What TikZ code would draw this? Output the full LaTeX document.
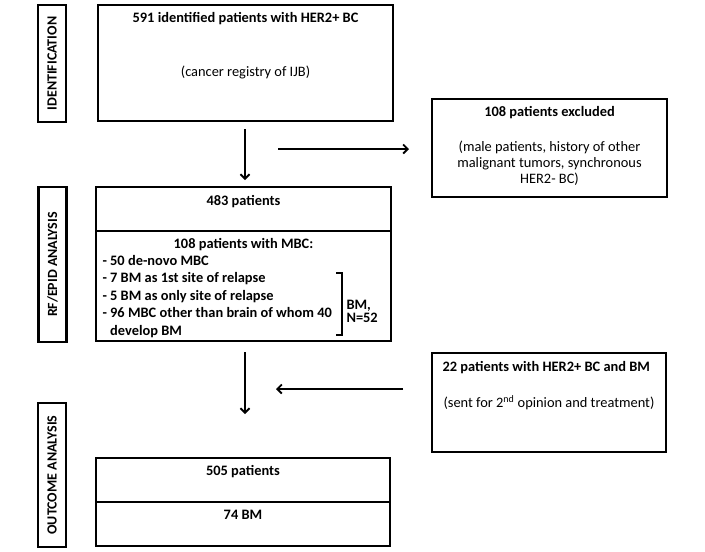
\documentclass[tikz,border=0pt]{standalone}
\usepackage{fontspec}
\setmainfont{Carlito}
\usetikzlibrary{arrows.meta}
\begin{document}
\begin{tikzpicture}[x=1pt,y=-1pt,
  box/.style={draw,line width=1.7pt,rectangle,inner sep=0pt},
  side/.style={draw,line width=2.2pt,rectangle,inner sep=0pt,minimum width=28pt},
  sidetxt/.style={rotate=90,font=\fontsize{14}{16}\selectfont\bfseries},
  bt/.style={font=\fontsize{14.4}{16}\selectfont\bfseries},
  rt/.style={font=\fontsize{14.4}{16}\selectfont},
  arr/.style={line width=1.6pt,-{Straight Barb[length=4.5pt,width=9pt,line width=1.8pt]}}]
\useasboundingbox (0,0) rectangle (705,552);
% side labels
\node[side,minimum height=117pt] (sid) at (52,63.5) {};
\node[sidetxt] (tid) at (52,63.5) {IDENTIFICATION};
\node[side,minimum height=155pt] (srf) at (52.5,264.5) {};
\node[sidetxt] (trf) at (52.5,264.5) {RF/EPID ANALYSIS};
\node[side,minimum height=144pt] (sout) at (52,475) {};
\node[sidetxt] (tout) at (52,475) {OUTCOME ANALYSIS};
% box 1
\node[box,minimum width=295pt,minimum height=116pt] (b1) at (245.5,63) {};
\node[bt] (b1a) at (245.5,19) {591 identified patients with HER2+ BC};
\node[rt] (b1b) at (245.5,72) {(cancer registry of IJB)};
% excluded
\node[box,minimum width=235pt,minimum height=98pt] (ex) at (549.5,148) {};
\node[bt] (exa) at (549.5,113) {108 patients excluded};
\node[rt,align=center,font=\fontsize{14.4}{16}\selectfont] (exb) at (549.5,163.5) {(male patients, history of other\\malignant tumors, synchronous\\HER2- BC)};
% box 2
\node[box,minimum width=295pt,minimum height=44pt] (b2t) at (243.5,209) {};
\node[bt] (b2a) at (243.5,202) {483 patients};
\node[box,minimum width=295pt,minimum height=110pt] (b2b) at (243.5,286) {};
\node[bt] (b2c) at (243.5,245) {108 patients with MBC:};
\node[bt,align=left,anchor=north west,font=\fontsize{14.4}{17.5}\selectfont\bfseries] (b2d) at (99,251.5) {- 50 de-novo MBC\\- 7 BM as 1st site of relapse\\- 5 BM as only site of relapse\\- 96 MBC other than brain of whom 40\\\hphantom{- }develop BM};
\draw[line width=1.7pt] (336,273) -- (342,273) -- (342,335) -- (336,335);
\node[bt,align=left,anchor=west,font=\fontsize{14.4}{13.5}\selectfont\bfseries] (bmn) at (343,311.5) {BM,\\N=52};
% box 22
\node[box,minimum width=234pt,minimum height=99pt] (ot) at (549,402.5) {};
\node[bt,anchor=west] (ota) at (439,368) {22 patients with HER2+ BC and BM};
\node[rt,anchor=west] (otb) at (440,403) {(sent for 2\textsuperscript{nd} opinion and treatment)};
% box 3
\node[box,minimum width=294pt,minimum height=44pt] (b3t) at (243,480) {};
\node[bt] (b3a) at (243,472) {505 patients};
\node[box,minimum width=294pt,minimum height=44pt] (b3b) at (243,524) {};
\node[bt] (b3c) at (243,515) {74 BM};
% arrows
\coordinate (a1s) at (245,129);
\coordinate (a1e) at (245,180);
\draw[arr] (a1s) -- (a1e);
\coordinate (h1s) at (278,149);
\coordinate (h1e) at (409,149);
\draw[arr] (h1s) -- (h1e);
\coordinate (a2s) at (245,352);
\coordinate (a2e) at (245,414);
\draw[arr] (a2s) -- (a2e);
\coordinate (h2s) at (403,389);
\coordinate (h2e) at (276,389);
\draw[arr] (h2s) -- (h2e);
\end{tikzpicture}
\end{document}
